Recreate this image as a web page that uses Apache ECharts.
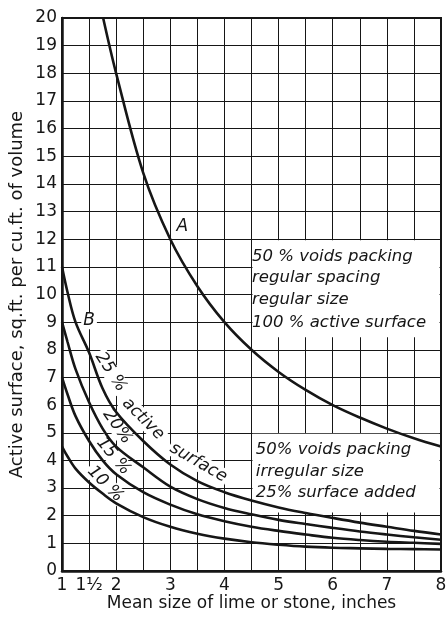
<!DOCTYPE html>
<html><head><meta charset="utf-8">
<script src="https://cdn.jsdelivr.net/npm/echarts@6/dist/echarts.min.js"></script>
<style>html,body{margin:0;padding:0;background:#fff}#c{width:446px;height:617px}</style>
</head><body><div id="c"></div>
<script>
// ---- data ----
const xTickValues = [1, 1.5, 2, 3, 4, 5, 6, 7, 8];
const xTickLabels = ['1', '1½', '2', '3', '4', '5', '6', '7', '8'];
const yTickLabels = ['0','1','2','3','4','5','6','7','8','9','10','11','12','13','14','15','16','17','18','19','20'];

const curveA_x = [1.76, 2, 2.5, 3, 3.5, 4, 4.5, 5, 5.5, 6, 6.5, 7, 7.5, 8];
const curveA_y = [20, 18, 14.4, 12, 10.3, 9, 8, 7.2, 6.55, 6.0, 5.55, 5.15, 4.8, 4.5];

const sizesX = [1, 1.1, 1.25, 1.5, 1.75, 2, 2.5, 3, 3.5, 4, 4.5, 5, 5.5, 6, 6.5, 7, 7.5, 8];
const curve25 = [11, 10.1, 9.0, 7.9, 6.6, 5.75, 4.7, 3.85, 3.25, 2.85, 2.55, 2.3, 2.1, 1.92, 1.75, 1.6, 1.45, 1.32];
const curve20 = [9, 8.3, 7.3, 6.1, 5.15, 4.5, 3.75, 3.05, 2.6, 2.28, 2.05, 1.85, 1.7, 1.56, 1.43, 1.32, 1.22, 1.13];
const curve15 = [7, 6.4, 5.6, 4.7, 4.0, 3.5, 2.85, 2.4, 2.05, 1.8, 1.6, 1.45, 1.32, 1.2, 1.12, 1.06, 1.02, 0.98];
const curve10 = [4.5, 4.15, 3.7, 3.2, 2.8, 2.45, 1.95, 1.6, 1.35, 1.17, 1.04, 0.95, 0.88, 0.84, 0.82, 0.8, 0.79, 0.78];

const boxText1 = ['50 % voids packing', 'regular spacing', 'regular size', '100 % active surface'];
const boxText2 = ['50% voids packing', 'irregular size', '25% surface added'];
const xTitle = 'Mean size of lime or stone, inches';
const yTitle = 'Active surface, sq.ft. per cu.ft. of volume';

// ---- layout (positions in data units) ----
const FONT = '"DejaVu Sans", sans-serif';
const INK = '#161616';
const curveLabels = [
  {t: 'A', x: 3.22, y: 12.45, r: 0},
  {t: 'B', x: 1.5, y: 9.05, r: 0},
  {t: '25 %', x: 1.9, y: 7.2, r: -57},
  {t: 'active', x: 2.5, y: 5.5, r: -45},
  {t: 'surface', x: 3.52, y: 3.92, r: -30},
  {t: '20%', x: 2.02, y: 5.22, r: -55},
  {t: '15 %', x: 1.95, y: 4.15, r: -50},
  {t: '10 %', x: 1.8, y: 3.15, r: -45}
];
const box1 = {x0: 4.5, x1: 8, y0: 8.45, y1: 12, tx: 4.51, ty: [11.36, 10.6, 9.8, 8.97]};
const box2 = {x0: 4.5, x1: 8, y0: 2.12, y1: 5, tx: 4.58, ty: [4.38, 3.58, 2.82]};

function pairs(xs, ys) { return xs.map((x, i) => [x, ys[i]]); }

const chart = echarts.init(document.getElementById('c'), null, {renderer: 'canvas'});
const lineStyle = {color: INK, width: 2.6};
const mkSeries = (name, data) => ({
  name, type: 'line', data, smooth: 0.35, showSymbol: false, symbol: 'none',
  lineStyle, z: 3, animation: false, silent: true
});

chart.setOption({
  animation: false,
  backgroundColor: '#fff',
  grid: {left: 62, right: 5, top: 18, bottom: 46, containLabel: false, outerBoundsMode: 'none',
    show: true, borderColor: INK, borderWidth: 2, backgroundColor: 'transparent'},
  xAxis: {
    type: 'value', min: 1, max: 8, interval: 0.5,
    name: xTitle, nameLocation: 'middle', nameGap: 24, nameMoveOverlap: false,
    nameTextStyle: {fontFamily: FONT, fontSize: 17, color: INK},
    axisLine: {show: true, onZero: false, lineStyle: {color: INK, width: 2.5}},
    axisTick: {show: false},
    splitLine: {show: true, lineStyle: {color: INK, width: 1}},
    axisLabel: {
      interval: 0, hideOverlap: false, margin: 6, color: INK, fontFamily: FONT, fontSize: 17,
      formatter: v => { const i = xTickValues.findIndex(t => Math.abs(t - v) < 1e-6); return i >= 0 ? xTickLabels[i] : ''; }
    }
  },
  yAxis: {
    type: 'value', min: 0, max: 20, interval: 1,
    name: yTitle, nameLocation: 'middle', nameGap: 36, nameMoveOverlap: false,
    nameTextStyle: {fontFamily: FONT, fontSize: 18, color: INK},
    axisLine: {show: true, onZero: false, lineStyle: {color: INK, width: 2.5}},
    axisTick: {show: false},
    splitLine: {show: true, lineStyle: {color: INK, width: 1}},
    axisLabel: {margin: 5, color: INK, fontFamily: FONT, fontSize: 17, formatter: v => yTickLabels[Math.round(v)] || ''}
  },
  series: [
    mkSeries('A', pairs(curveA_x, curveA_y)),
    mkSeries('25%', pairs(sizesX, curve25)),
    mkSeries('20%', pairs(sizesX, curve20)),
    mkSeries('15%', pairs(sizesX, curve15)),
    mkSeries('10%', pairs(sizesX, curve10))
  ]
});

function px(x, y) { return chart.convertToPixel({gridIndex: 0}, [x, y]); }
const g = [];
[box1, box2].forEach(b => {
  const p0 = px(b.x0, b.y1), p1 = px(b.x1, b.y0);
  g.push({type: 'rect', z: 1, shape: {x: p0[0] + 1, y: p0[1] + 1, width: p1[0] - p0[0] - 2.5, height: p1[1] - p0[1] - 1}, style: {fill: '#fff'}});
});
const addBoxText = (b, lines) => lines.forEach((t, i) => {
  const p = px(b.tx, b.ty[i]);
  g.push({type: 'text', z: 4, x: p[0], y: p[1], style: {text: t, fill: INK, font: 'oblique 16.5px ' + FONT, align: 'left', verticalAlign: 'middle'}});
});
addBoxText(box1, boxText1);
addBoxText(box2, boxText2);
curveLabels.forEach(l => {
  const p = px(l.x, l.y);
  g.push({type: 'text', z: 2, x: p[0], y: p[1], rotation: l.r * Math.PI / 180,
    style: {text: l.t, fill: INK, font: 'oblique 17px ' + FONT, align: 'center', verticalAlign: 'middle', backgroundColor: '#fff', padding: [0, 2]}});
});
chart.setOption({graphic: {elements: g}});
</script>
</body></html>
